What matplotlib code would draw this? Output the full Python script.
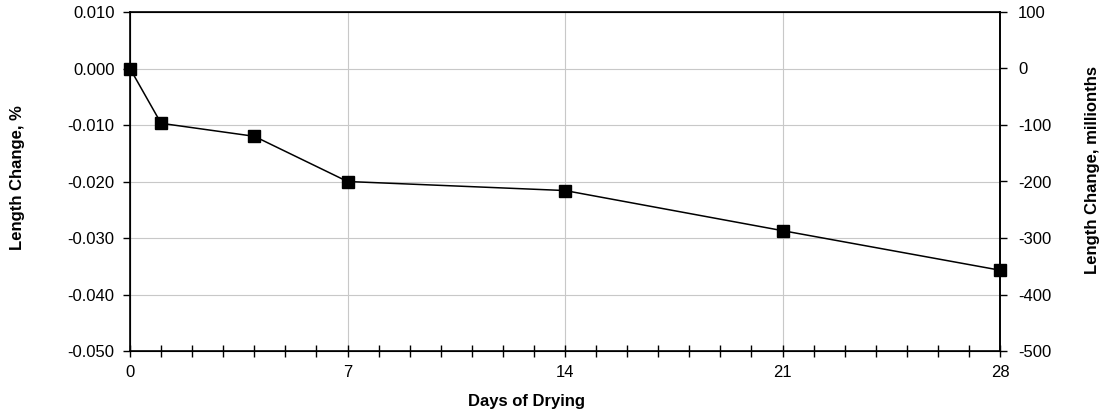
import matplotlib
matplotlib.use("Agg")
import matplotlib.pyplot as plt
from matplotlib.ticker import MultipleLocator, FuncFormatter

plt.rcParams['font.family'] = ['Liberation Sans', 'DejaVu Sans']
plt.rcParams['axes.unicode_minus'] = False

# data
days = [0, 1, 4, 7, 14, 21, 28]
length_change = [0.0, -0.0097, -0.0120, -0.0200, -0.0216, -0.0287, -0.0357]

fig = plt.figure(figsize=(11.03, 4.15), dpi=100)
ax = fig.add_axes([130 / 1103, 1 - 351 / 415, 870 / 1103, 339 / 415])

ax.plot(days, length_change, color='black', lw=1.1, marker='s',
        markersize=9, markerfacecolor='black', zorder=3, clip_on=False)

ax.set_xlim(0, 28)
ax.set_ylim(-0.05, 0.01)
ax.xaxis.set_major_locator(MultipleLocator(7))
ax.xaxis.set_minor_locator(MultipleLocator(1))
ax.yaxis.set_major_locator(MultipleLocator(0.01))
ax.yaxis.set_major_formatter(FuncFormatter(lambda v, p: '%.3f' % (round(v, 4) + 0.0)))
ax.grid(True, which='major', color='#c8c8c8', lw=0.8)
ax.set_axisbelow(True)

for s in ax.spines.values():
    s.set_linewidth(1.2)

ax.tick_params(axis='x', which='both', direction='inout', length=8, width=1,
               labelsize=12, pad=6)
ax.tick_params(axis='y', which='major', direction='out', length=5, width=1,
               labelsize=12, pad=6)

# right axis in millionths
ax2 = ax.twinx()
ax2.set_ylim(-500, 100)
ax2.yaxis.set_major_locator(MultipleLocator(100))
ax2.tick_params(axis='y', direction='out', length=5, width=1, labelsize=12,
                pad=8)
ax2.spines['right'].set_linewidth(1.2)

fig.text(18 / 1103, 1 - 178 / 415, 'Length Change, %', fontweight='bold',
         fontsize=12, rotation=90, ha='center', va='center')
fig.text(1093 / 1103, 1 - 170 / 415, 'Length Change, millionths',
         fontweight='bold', fontsize=12, rotation=90, ha='center', va='center')
fig.text(526 / 1103, 1 - 401 / 415, 'Days of Drying', fontweight='bold',
         fontsize=12, ha='center', va='center')

fig.savefig('out.png', dpi=100)
